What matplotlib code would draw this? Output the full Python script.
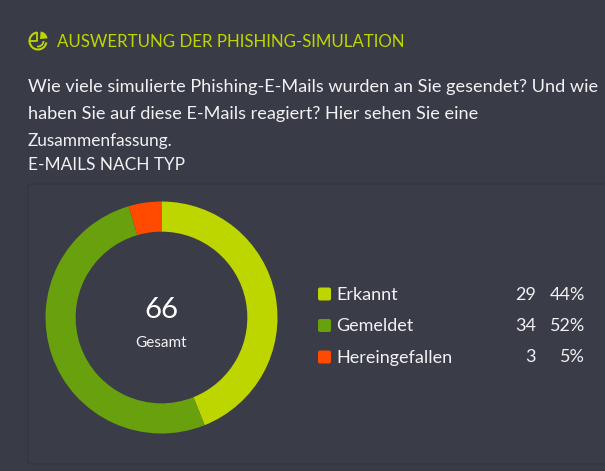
import matplotlib
matplotlib.use('Agg')
import matplotlib.pyplot as plt
from matplotlib.patches import FancyBboxPatch, Wedge, Arc

categories = ['Erkannt', 'Gemeldet', 'Hereingefallen']
values = [29, 34, 3]
percents = ['44%', '52%', '5%']
colors = ['#bed600', '#68a00e', '#ff4a00']
total = 66

title = 'AUSWERTUNG DER PHISHING-SIMULATION'
body_lines = ['Wie viele simulierte Phishing-E-Mails wurden an Sie gesendet? Und wie',
              'haben Sie auf diese E-Mails reagiert? Hier sehen Sie eine',
              'Zusammenfassung.']
subtitle = 'E-MAILS NACH TYP'
body_y = [87, 114, 141]
body_size = [13.1, 13.1, 12.4]

W, H = 605, 471
BG = '#393b46'
plt.rcParams['font.family'] = ['Lato', 'DejaVu Sans']

fig = plt.figure(figsize=(W / 100, H / 100), dpi=100, facecolor=BG)

# pixel canvas for card, icon and text, y runs downward like the screenshot
bg = fig.add_axes([0, 0, 1, 1])
bg.set_xlim(0, W)
bg.set_ylim(H, 0)
bg.axis('off')

card = FancyBboxPatch((28, 184), 640, 280, boxstyle='round,pad=0,rounding_size=5',
                      fc='#3a3c47', ec='#34363f', lw=1)
bg.add_patch(card)

# little chart icon next to the heading
bg.add_patch(Arc((38, 41), 17, 17, theta1=10, theta2=265, color=colors[0], lw=1.5))
bg.add_patch(Wedge((40, 39), 7.5, 275, 355, fc=colors[0], ec='none'))
bg.plot([37, 37, 30], [33, 41, 41], color=colors[0], lw=1.3)
bg.add_patch(Arc((38, 41), 11, 11, theta1=0, theta2=100, color=colors[0], lw=1.3))

bg.text(57, 42, title, color=colors[0], fontsize=12.2, va='center', ha='left')
for line, y, size in zip(body_lines, body_y, body_size):
    bg.text(28, y, line, color='#f2f2f4', fontsize=size, va='center', ha='left')
bg.text(28, 165.5, subtitle, color='#f2f2f4', fontsize=12.4, va='center', ha='left')

# donut
ax = fig.add_axes([45.5 / W, 1 - 433.5 / H, 232 / W, 232 / H])
ax.pie(values, colors=colors, startangle=90, counterclock=False, radius=1,
       wedgeprops=dict(width=0.26))
ax.set_xlim(-1, 1)
ax.set_ylim(-1, 1)

bg.text(161.5, 310, str(total), color='white', fontsize=21, ha='center', va='center')
bg.text(161.5, 343, 'Gesamt', color='#f2f2f4', fontsize=11, ha='center', va='center')

# legend rows
row_y = [294.5, 326, 357.5]
for name, val, pct, col, y in zip(categories, values, percents, colors, row_y):
    bg.add_patch(FancyBboxPatch((318, y - 7), 13, 13, boxstyle='round,pad=0,rounding_size=2',
                                fc=col, ec='none'))
    bg.text(336, y, name, color='#f2f2f4', fontsize=13, va='center', ha='left')
    bg.text(536, y, str(val), color='#f2f2f4', fontsize=13, va='center', ha='right')
    bg.text(585, y, pct, color='#f2f2f4', fontsize=13, va='center', ha='right')

fig.savefig('out.png', dpi=100, facecolor=BG)
